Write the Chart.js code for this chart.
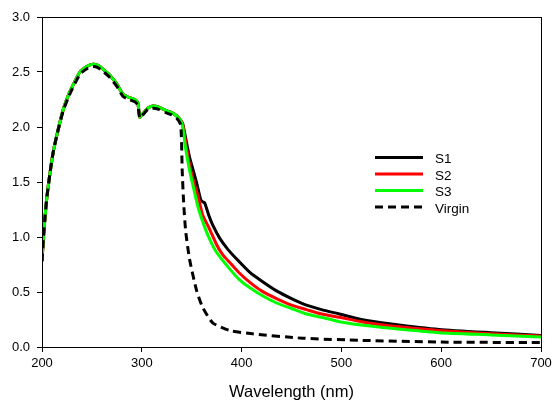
<!DOCTYPE html>
<html>
<head>
<meta charset="utf-8">
<script src="https://cdn.jsdelivr.net/npm/chart.js@4.4.1/dist/chart.umd.min.js"></script>
<style>
  html, body { margin: 0; padding: 0; background: #fff; }
  canvas { display: block; }
</style>
</head>
<body>
<canvas id="absChart" width="552" height="402"></canvas>
<script>
// Absorbance vs wavelength (UV-Vis)

// partie commune S1/S2/S3 (200-341 nm)
const uvWl  = [200, 201.5, 203, 205, 208, 211, 215, 221, 226, 230, 238, 245, 251, 256, 262, 268, 275, 281, 287, 293, 296, 298, 301, 306, 311, 317, 324, 330, 335, 339];
const uvAbs = [0.78, 1.00, 1.18, 1.37, 1.58, 1.76, 1.93, 2.15, 2.28, 2.36, 2.50, 2.55, 2.57, 2.56, 2.52, 2.47, 2.39, 2.30, 2.27, 2.25, 2.22, 2.09, 2.12, 2.17, 2.19, 2.18, 2.15, 2.13, 2.10, 2.06];

// queues de chaque échantillon
const s1Wl  = [341, 345, 348, 352, 355, 359, 361, 363, 367, 371, 378, 386, 395, 408, 420, 435, 450, 465, 480, 498, 520, 550, 598, 650, 700];
const s1Abs = [2.03, 1.85, 1.72, 1.59, 1.49, 1.34, 1.32, 1.31, 1.20, 1.11, 0.99, 0.89, 0.80, 0.68, 0.60, 0.51, 0.44, 0.38, 0.34, 0.30, 0.25, 0.21, 0.16, 0.13, 0.105];

const s2Wl  = [341, 345, 348, 352, 356, 361, 368, 375, 381, 388, 398, 408, 420, 435, 450, 465, 480, 498, 520, 550, 598, 650, 700];
const s2Abs = [2.02, 1.80, 1.65, 1.50, 1.38, 1.20, 1.07, 0.93, 0.84, 0.77, 0.67, 0.59, 0.51, 0.44, 0.38, 0.34, 0.30, 0.27, 0.23, 0.19, 0.15, 0.12, 0.10];

const s3Wl  = [341, 344, 348, 353, 357, 363, 369, 375, 388, 398, 408, 420, 435, 450, 465, 480, 498, 520, 550, 598, 650, 700];
const s3Abs = [2.00, 1.80, 1.60, 1.40, 1.25, 1.09, 0.96, 0.86, 0.71, 0.61, 0.54, 0.47, 0.40, 0.35, 0.30, 0.27, 0.23, 0.20, 0.17, 0.13, 0.11, 0.09];

const virginWl  = [200, 201.5, 203, 205, 208, 211, 215, 221, 226, 230, 238, 245, 251, 256, 262, 268, 275, 281, 287, 293, 296, 298, 301, 306, 311, 317, 324, 330, 335, 339, 340.5, 342, 344, 348, 355, 361, 371, 388, 411, 461, 521, 600, 700];
const virginAbs = [0.78, 1.00, 1.18, 1.37, 1.58, 1.76, 1.93, 2.14, 2.26, 2.34, 2.48, 2.53, 2.55, 2.54, 2.50, 2.45, 2.37, 2.28, 2.25, 2.23, 2.20, 2.08, 2.11, 2.16, 2.17, 2.16, 2.13, 2.11, 2.08, 2.02, 1.60, 1.30, 1.05, 0.79, 0.51, 0.36, 0.22, 0.15, 0.12, 0.08, 0.06, 0.045, 0.04];

const xTicks = [200, 300, 400, 500, 600, 700];
const yTicks = [0.0, 0.5, 1.0, 1.5, 2.0, 2.5, 3.0];

const FONT = '"Liberation Sans", Arial, sans-serif';

const toPts = (wl, abs) => wl.map((x, i) => ({ x: x, y: abs[i] }));

const series = [
    { label: 'S1', pts: toPts(uvWl.concat(s1Wl), uvAbs.concat(s1Abs)), color: '#000000', dash: [], order: 4 },
    { label: 'S2', pts: toPts(uvWl.concat(s2Wl), uvAbs.concat(s2Abs)), color: '#ff0000', dash: [], order: 3 },
    { label: 'S3', pts: toPts(uvWl.concat(s3Wl), uvAbs.concat(s3Abs)), color: '#00ff00', dash: [], order: 2 },
    { label: 'Virgin', pts: toPts(virginWl, virginAbs), color: '#000000', dash: [8, 5], order: 1 },
];

// cadre complet autour de la zone de tracé
const frame = {
    id: 'frame',
    afterDraw(chart) {
        const { ctx, chartArea: a } = chart;
        ctx.save();
        ctx.strokeStyle = '#000';
        ctx.lineWidth = 1;
        ctx.strokeRect(a.left + 0.5, a.top + 0.5, a.right - a.left, a.bottom - a.top);
        ctx.restore();
    }
};

// légende dans la zone de tracé
const innerLegend = {
    id: 'innerLegend',
    afterDatasetsDraw(chart) {
        const ctx = chart.ctx;
        ctx.save();
        ctx.font = '13.5px ' + FONT;
        ctx.textBaseline = 'middle';
        chart.data.datasets.forEach((ds, i) => {
            const y = 157.5 + i * 16.5;
            ctx.beginPath();
            ctx.setLineDash(ds.borderDash);
            ctx.strokeStyle = ds.borderColor;
            ctx.lineWidth = 3;
            ctx.moveTo(375, y);
            ctx.lineTo(423, y);
            ctx.stroke();
            ctx.setLineDash([]);
            ctx.fillStyle = '#000';
            ctx.fillText(ds.label, 435, y + 2);
        });
        ctx.restore();
    }
};

new Chart(document.getElementById('absChart'), {
    type: 'line',
    data: {
        datasets: series.map(s => ({
            label: s.label,
            data: s.pts,
            borderColor: s.color,
            borderDash: s.dash,
            borderWidth: 3,
            pointRadius: 0,
            fill: false,
            tension: 0.2,
            order: s.order,
        })),
    },
    options: {
        responsive: false,
        animation: false,
        devicePixelRatio: 1,
        layout: { padding: { top: 17, right: 11, left: 0, bottom: 0 } },
        plugins: {
            legend: { display: false },
            tooltip: { enabled: false },
        },
        scales: {
            x: {
                type: 'linear',
                min: 200,
                max: 700,
                afterFit: s => { s.height = 55; s.paddingLeft = 0; s.paddingRight = 0; },
                afterBuildTicks: s => { s.ticks = xTicks.map(v => ({ value: v })); },
                grid: { drawOnChartArea: false, drawTicks: true, tickLength: 5, color: '#000' },
                border: { display: true, color: '#000', width: 1 },
                ticks: {
                    color: '#000',
                    padding: 4,
                    maxRotation: 0,
                    font: { family: FONT, size: 13 },
                },
                title: {
                    display: true,
                    text: 'Wavelength (nm)',
                    color: '#000',
                    padding: { top: 0, bottom: 0 },
                    font: { family: FONT, size: 16.5 },
                },
            },
            y: {
                min: 0,
                max: 3,
                afterFit: s => { s.width = 42; s.paddingTop = 0; s.paddingBottom = 0; },
                afterBuildTicks: s => { s.ticks = yTicks.map(v => ({ value: v })); },
                grid: { drawOnChartArea: false, drawTicks: true, tickLength: 5, color: '#000' },
                border: { display: true, color: '#000', width: 1 },
                ticks: {
                    color: '#000',
                    padding: 7,
                    callback: v => v.toFixed(1),
                    font: { family: FONT, size: 13 },
                },
            },
        },
    },
    plugins: [frame, innerLegend],
});
</script>
</body>
</html>
